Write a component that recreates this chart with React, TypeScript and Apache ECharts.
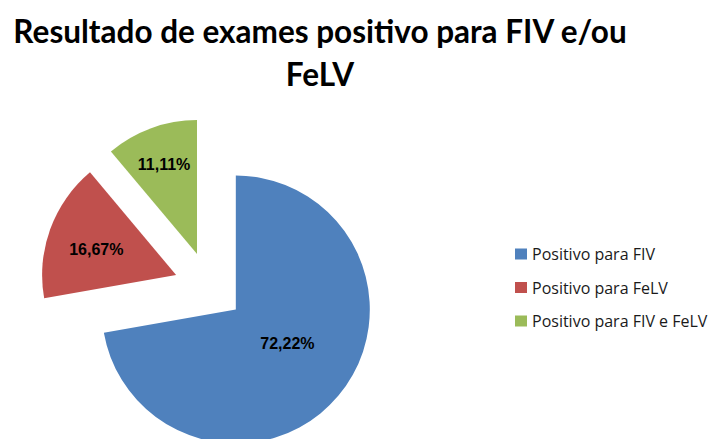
import React, { useEffect, useRef } from "react";
import * as echarts from "echarts";

const titleLines = ["Resultado de exames positivo para FIV e/ou", "FeLV"];
const categories = ["Positivo para FIV", "Positivo para FeLV", "Positivo para FIV e FeLV"];
const values = [72.22, 16.67, 11.11];
const colors = ["#4F81BD", "#C0504D", "#9BBB59"];
// label nudges (px) to mimic the original label placement
const labelShifts = [
  [-2, -11],
  [-14, -2],
  [-9, -24],
];

export default function App() {
  const ref = useRef<HTMLDivElement>(null);

  useEffect(() => {
    if (!ref.current) return;
    const chart = echarts.init(ref.current, null, { renderer: "svg" });
    chart.setOption({
      animation: false,
      backgroundColor: "#ffffff",
      graphic: [
        {
          type: "text",
          x: 320,
          y: 9,
          style: {
            text: titleLines.join("\n"),
            align: "center",
            verticalAlign: "top",
            fontFamily: "Lato",
            fontWeight: "bold",
            fontSize: 31.5,
            lineHeight: 43,
            fill: "#000000",
          },
        },
      ],
      legend: {
        orient: "vertical",
        left: 515,
        top: 246,
        padding: 0,
        itemWidth: 12,
        itemHeight: 11,
        itemGap: 17.5,
        icon: "rect",
        selectedMode: false,
        data: categories,
        textStyle: {
          fontFamily: "Open Sans",
          fontSize: 16,
          lineHeight: 14,
          color: "#1a1a1a",
          padding: [0, 0, 0, 0],
        },
      },
      series: [
        {
          type: "pie",
          center: [209, 287],
          radius: 134,
          startAngle: 90,
          clockwise: true,
          selectedMode: "multiple",
          selectedOffset: 35,
          avoidLabelOverlap: false,
          emphasis: { disabled: true },
          label: {
            show: true,
            position: "inside",
            fontFamily: "Liberation Sans, Arial",
            fontWeight: "bold",
            fontSize: 16,
            color: "#000000",
            formatter: (p: any) => p.value.toFixed(2).replace(".", ",") + "%",
          },
          labelLine: { show: false },
          labelLayout: (p: any) => ({
            dx: labelShifts[p.dataIndex][0],
            dy: labelShifts[p.dataIndex][1],
          }),
          data: categories.map((name, i) => ({
            name,
            value: values[i],
            selected: true,
            itemStyle: { color: colors[i], borderWidth: 0 },
            select: { itemStyle: { color: colors[i], borderWidth: 0 } },
          })),
        },
      ],
    });
    return () => chart.dispose();
  }, []);

  return (
    <div
      ref={ref}
      style={{ position: "absolute", left: 0, top: 0, width: 715, height: 439 }}
    />
  );
}
